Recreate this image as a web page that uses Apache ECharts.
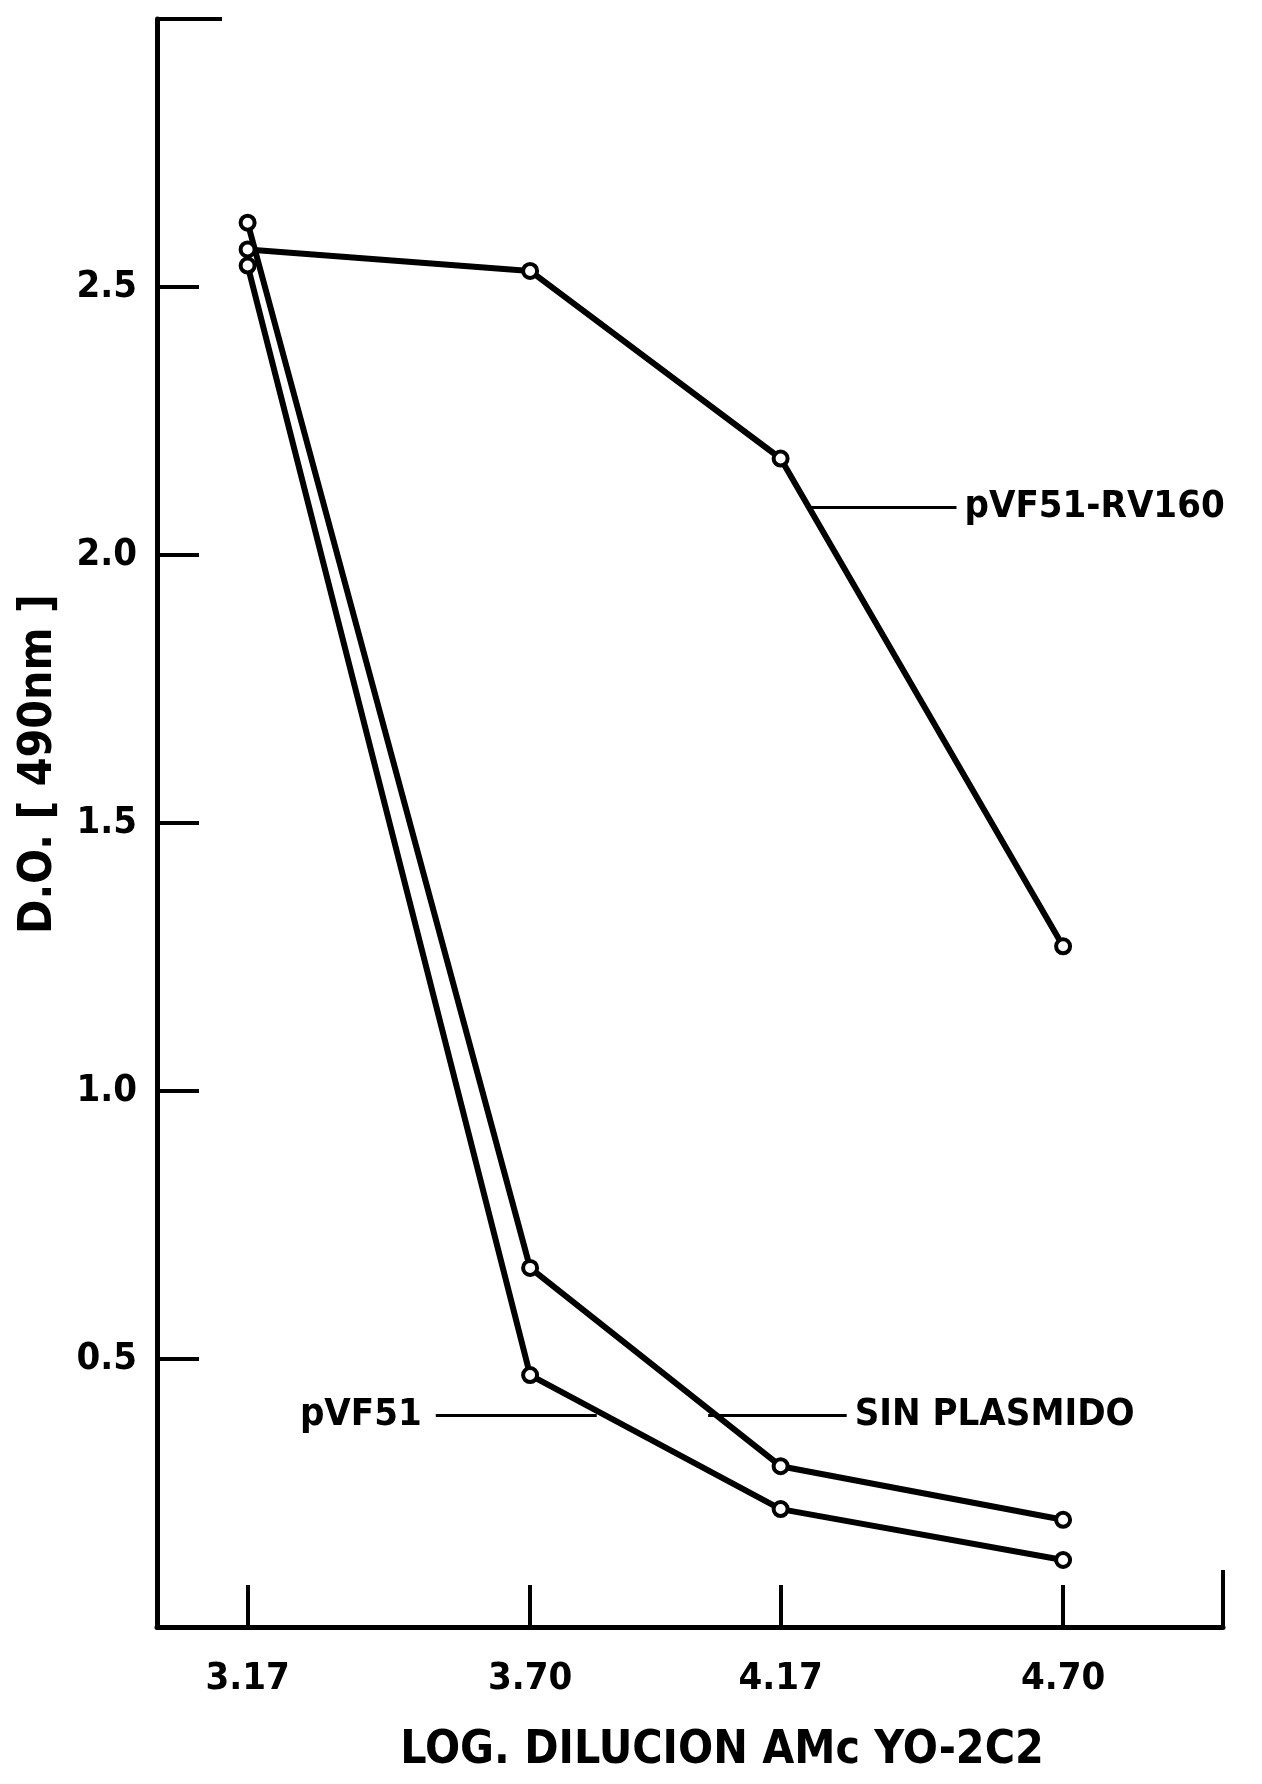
<!DOCTYPE html>
<html>
<head>
<meta charset="utf-8">
<script src="https://cdn.jsdelivr.net/npm/echarts@6/dist/echarts.min.js"></script>
<style>
html,body{margin:0;padding:0;background:#fff;}
#chart{width:1262px;height:1784px;}
</style>
</head>
<body>
<div id="chart"></div>
<script>
// ---- data ----
const xValues = [3.17, 3.70, 4.17, 4.70];
const rv160 = [2.57, 2.53, 2.18, 1.27];
const sinPlasmido = [2.62, 0.67, 0.30, 0.20];
const pvf51 = [2.54, 0.47, 0.22, 0.125];

const xTickValues = [3.17, 3.70, 4.17, 4.70];
const xTickLabels = ['3.17', '3.70', '4.17', '4.70'];
const yTickValues = [0.5, 1.0, 1.5, 2.0, 2.5];
const yTickLabels = ['0.5', '1.0', '1.5', '2.0', '2.5'];

const seriesNames = ['pVF51-RV160', 'SIN PLASMIDO', 'pVF51'];
const xTitle = 'LOG. DILUCION AMc YO-2C2';
const yTitle = 'D.O. [ 490nm ]';

// ---- styling ----
const FONT = "'DejaVu Sans Condensed', 'DejaVu Sans', sans-serif";
const BLACK = '#000';
const txt = {color: BLACK, fontFamily: FONT, fontSize: 38, fontWeight: 'bold'};

function pairs(ys) { return xValues.map((x, i) => [x, ys[i]]); }

function lineSeries(name, ys, leader, labelPos, labelDist) {
  return {
    name: name,
    type: 'line',
    data: pairs(ys),
    xAxisIndex: 0,
    yAxisIndex: 0,
    symbol: 'circle',
    symbolSize: 14,
    showAllSymbol: true,
    itemStyle: {color: '#fff', borderColor: BLACK, borderWidth: 4},
    lineStyle: {color: BLACK, width: 6},
    z: 3,
    markLine: {
      silent: true,
      symbol: ['none', 'none'],
      animation: false,
      lineStyle: {color: BLACK, width: 3, type: 'solid'},
      label: Object.assign({show: true, position: labelPos, distance: labelDist, formatter: name}, txt),
      data: [[{coord: leader[0]}, {coord: leader[1]}]]
    }
  };
}

const chart = echarts.init(document.getElementById('chart'), null, {renderer: 'canvas'});
chart.setOption({
  animation: false,
  backgroundColor: '#fff',
  grid: {left: 157, right: 39, top: 19, bottom: 157, containLabel: false},
  xAxis: [{
    type: 'value', min: 3, max: 5, position: 'bottom',
    axisLine: {show: true, onZero: false, lineStyle: {color: BLACK, width: 5}},
    axisTick: {show: true, inside: true, length: 42, customValues: xTickValues, lineStyle: {color: BLACK, width: 4}},
    axisLabel: Object.assign({show: true, customValues: xTickValues, margin: 33,
      formatter: v => xTickLabels[xTickValues.indexOf(v)]}, txt),
    splitLine: {show: false},
    name: xTitle, nameLocation: 'middle', nameGap: 101,
    nameTextStyle: {color: BLACK, fontFamily: FONT, fontSize: 46, fontWeight: 'bold', padding: [0, 0, 0, 64]}
  }, {
    type: 'value', min: 3, max: 5, position: 'bottom',
    axisLine: {show: false},
    axisTick: {show: true, inside: true, length: 57, customValues: [5], lineStyle: {color: BLACK, width: 4}},
    axisLabel: {show: false},
    splitLine: {show: false}
  }],
  yAxis: [{
    type: 'value', min: 0, max: 3, position: 'left',
    axisLine: {show: true, onZero: false, lineStyle: {color: BLACK, width: 5}},
    axisTick: {show: true, inside: true, length: 42, customValues: yTickValues, lineStyle: {color: BLACK, width: 4}},
    axisLabel: Object.assign({show: true, customValues: yTickValues, margin: 20,
      formatter: v => yTickLabels[yTickValues.indexOf(v)]}, txt),
    splitLine: {show: false},
    name: yTitle, nameLocation: 'middle', nameRotate: 90, nameGap: 95,
    nameTextStyle: {color: BLACK, fontFamily: FONT, fontSize: 46, fontWeight: 'bold', padding: [0, 0, 0, 118]}
  }, {
    type: 'value', min: 0, max: 3, position: 'left',
    axisLine: {show: false},
    axisTick: {show: true, inside: true, length: 65, customValues: [3], lineStyle: {color: BLACK, width: 4}},
    axisLabel: {show: false},
    splitLine: {show: false}
  }],
  series: [
    lineSeries(seriesNames[0], rv160, [[4.221, 2.09], [4.50, 2.09]], 'end', 8),
    lineSeries(seriesNames[1], sinPlasmido, [[4.034, 0.395], [4.294, 0.395]], 'end', 8),
    lineSeries(seriesNames[2], pvf51, [[3.523, 0.395], [3.825, 0.395]], 'start', 14)
  ]
});
</script>
</body>
</html>
